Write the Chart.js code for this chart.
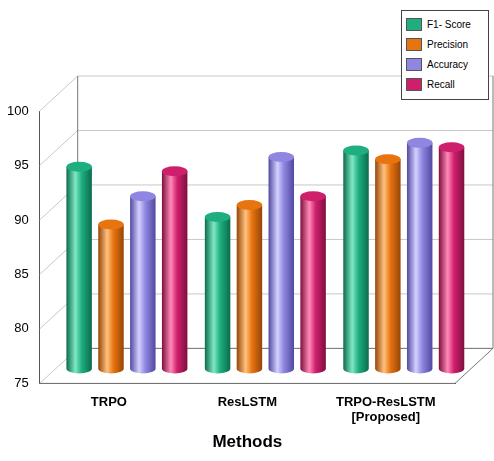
<!DOCTYPE html>
<html><head><script src="https://cdn.jsdelivr.net/npm/chart.js@4"></script>
<style>body{margin:0;background:#fff;font-family:Arial,"Liberation Sans",sans-serif}
#wrap{position:relative;width:494px;height:461px}
#leg{position:absolute;left:401px;top:10px;width:88px;height:90px;border:1px solid #444;background:#fff;font-size:10px;box-sizing:border-box;padding:3px 4px}
#leg div{display:flex;align-items:center;height:20px}
#leg span{display:inline-block;width:14px;height:11px;margin-right:5px;border:1px solid #555}
</style></head><body>
<div id="wrap"><canvas id="c" width="494" height="461"></canvas>
<div id="leg"></div></div>
<script>
const categories=["TRPO","ResLSTM",["TRPO-ResLSTM","[Proposed]"]];
const seriesNames=["F1- Score","Precision","Accuracy","Recall"];
const f1=[93.5,88.9,95.0];
const precision=[88.2,90.0,94.2];
const accuracy=[90.8,94.4,95.7];
const recall=[93.1,90.8,95.3];
const colors=["#1fae80","#e8740f","#8e86e0","#cf1f6c"];
const darks=["#0b6b4b","#96450a","#5149a0","#7e0e3e"];
const lights=["#7fe8c4","#ffc27d","#d4d0ff","#ff8ab8"];
const tickVals=[75,80,85,90,95,100];
const DX=38,DY=-35,BX=18,BY=-15;
document.getElementById('leg').innerHTML=seriesNames.map((n,i)=>`<div><span style="background:${colors[i]}"></span>${n}</div>`).join('');
const box={id:'box',beforeDatasetsDraw(ch){const c=ch.ctx,a=ch.chartArea,y=ch.scales.y;
 c.save();c.strokeStyle='#c8c8c8';c.lineWidth=1;
 tickVals.forEach(v=>{const p=y.getPixelForValue(v);c.beginPath();c.moveTo(a.left,p);c.lineTo(a.left+DX,p+DY);c.lineTo(a.right+DX,p+DY);c.stroke();});
 c.strokeStyle='#777';c.beginPath();
 c.moveTo(a.left+DX,a.top+DY);c.lineTo(a.left+DX,a.bottom+DY);c.lineTo(a.right+DX,a.bottom+DY);c.lineTo(a.right+DX,a.top+DY);
 c.moveTo(a.left,a.bottom);c.lineTo(a.right,a.bottom);c.lineTo(a.right+DX,a.bottom+DY);
 c.stroke();c.restore();
 const base=y.getPixelForValue(75);
 ch.data.datasets.forEach((ds,di)=>{ch.getDatasetMeta(di).data.forEach(b=>{
  const w=b.width,x0=b.x-w/2+BX,top=b.y+BY,bot=base+BY,r=w/2,ry=5;
  const g=c.createLinearGradient(x0,0,x0+w,0);g.addColorStop(0,darks[di]);g.addColorStop(0.35,lights[di]);g.addColorStop(0.6,colors[di]);g.addColorStop(1,darks[di]);
  c.save();c.fillStyle=g;c.beginPath();c.moveTo(x0,top);c.lineTo(x0,bot);c.ellipse(x0+r,bot,r,ry,0,Math.PI,0,true);c.lineTo(x0+w,top);c.closePath();c.fill();
  c.fillStyle=colors[di];c.beginPath();c.ellipse(x0+r,top,r,ry,0,0,2*Math.PI);c.fill();c.restore();
 });});
 return false;}};
new Chart(document.getElementById('c'),{type:'bar',
 data:{labels:categories,datasets:[f1,precision,accuracy,recall].map((d,i)=>({label:seriesNames[i],data:d,backgroundColor:colors[i]}))},
 options:{responsive:false,animation:false,layout:{padding:{top:111,right:39,left:4,bottom:4}},
  categoryPercentage:0.92,barPercentage:0.8,
  plugins:{legend:{display:false},tooltip:{enabled:false}},
  scales:{x:{grid:{display:false},border:{color:'#555'},ticks:{color:'#000',font:{size:13,weight:'bold'}},
    title:{display:true,text:'Methods',color:'#000',font:{size:17,weight:'bold'}}},
   y:{min:75,max:100,afterBuildTicks(s){s.ticks=tickVals.map(v=>({value:v}));},grid:{display:false},border:{color:'#555'},
    ticks:{color:'#000',font:{size:13}}}}},
 plugins:[box]});
</script></body></html>
